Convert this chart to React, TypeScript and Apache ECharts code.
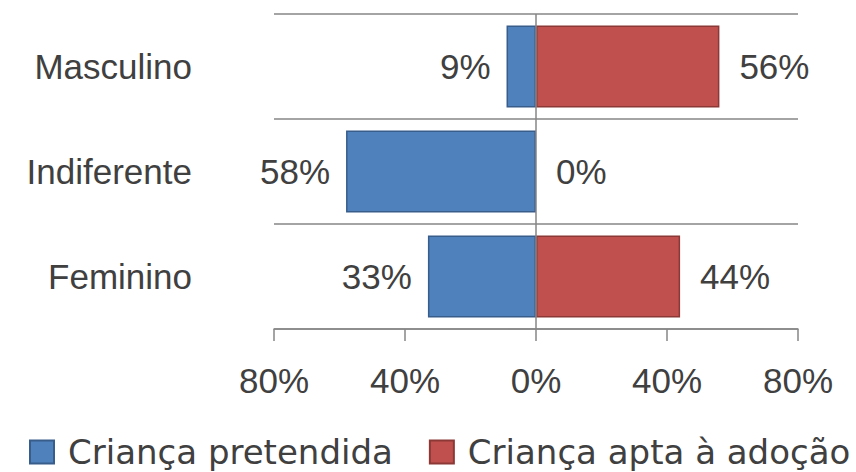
import React, { useEffect, useRef } from "react";
import * as echarts from "echarts";

const categories = ["Masculino", "Indiferente", "Feminino"];
const pretendida = [-9, -58, -33];
const apta = [56, 0, 44];
const seriesNames = ["Criança pretendida", "Criança apta à adoção"];

const FONT = "'Liberation Sans', Arial, sans-serif";
const LEGEND_FONT = "'DejaVu Sans', sans-serif";
const TXT = "#404040";

export default function App() {
  const ref = useRef<HTMLDivElement>(null);
  useEffect(() => {
    if (!ref.current) return;
    const chart = echarts.init(ref.current, null, { renderer: "svg" });
    const pctLabel = (p: any) => Math.abs(p.value) + "%";
    chart.setOption({
      animation: false,
      backgroundColor: "#ffffff",
      textStyle: { fontFamily: FONT },
      grid: { left: 274, right: 58, top: 14, bottom: 143, containLabel: false },
      legend: {
        left: 24,
        top: 430,
        width: 900,
        padding: [5, 0, 5, 5],
        itemWidth: 24,
        itemHeight: 23,
        itemGap: 36,
        icon: "rect",
        textStyle: { fontFamily: LEGEND_FONT, fontSize: 34, color: TXT, padding: [0, 0, 0, 9] },
        data: seriesNames,
      },
      xAxis: {
        type: "value",
        min: -80,
        max: 80,
        interval: 40,
        axisLine: { show: true, onZero: false, lineStyle: { color: "#868686", width: 1.5 } },
        axisTick: { show: true, length: 12, lineStyle: { color: "#868686", width: 1.5 } },
        splitLine: { show: false },
        axisLabel: {
          margin: 34,
          fontSize: 35,
          color: TXT,
          fontFamily: FONT,
          formatter: (v: number) => Math.abs(v) + "%",
        },
      },
      yAxis: {
        type: "category",
        inverse: true,
        data: categories,
        axisLine: { show: false },
        axisTick: { show: false },
        splitLine: { show: true, lineStyle: { color: "#868686", width: 1.5 } },
        axisLabel: { margin: 82, fontSize: 35, color: TXT, fontFamily: FONT },
      },
      series: [
        {
          name: seriesNames[0],
          type: "bar",
          barCategoryGap: "22%",
          barGap: "-100%",
          data: pretendida,
          itemStyle: { color: "#4f81bd", borderColor: "#385d8a", borderWidth: 1.5 },
          label: {
            show: true,
            position: "left",
            distance: 16,
            fontSize: 35,
            color: TXT,
            fontFamily: FONT,
            formatter: pctLabel,
          },
        },
        {
          name: seriesNames[1],
          type: "bar",
          barCategoryGap: "22%",
          barGap: "-100%",
          data: apta.map((v) => (v === 0 ? { value: v, itemStyle: { borderWidth: 0 } } : v)),
          itemStyle: { color: "#c0504d", borderColor: "#8c3836", borderWidth: 1.5 },
          label: {
            show: true,
            position: "right",
            distance: 20,
            fontSize: 35,
            color: TXT,
            fontFamily: FONT,
            formatter: pctLabel,
          },
          markLine: {
            silent: true,
            symbol: "none",
            label: { show: false },
            lineStyle: { color: "#868686", width: 1.5, type: "solid" },
            data: [{ xAxis: 0 }],
          },
        },
      ],
    });
    return () => chart.dispose();
  }, []);
  return (
    <div
      ref={ref}
      style={{ position: "fixed", left: 0, top: 0, width: 856, height: 472 }}
    />
  );
}
